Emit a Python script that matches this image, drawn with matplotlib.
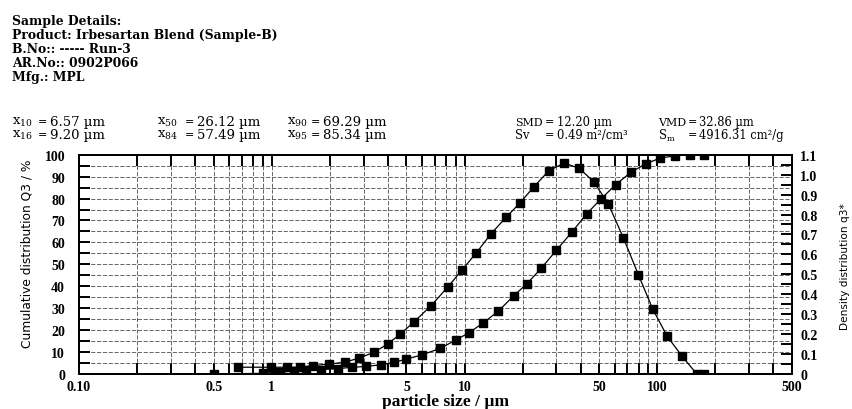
import matplotlib.pyplot as plt
from matplotlib.ticker import LogLocator, MultipleLocator, NullFormatter

plt.rcParams['mathtext.fontset'] = 'dejavuserif'

# HELOS class upper bounds (um) and cumulative distribution Q3 (%)
size_bounds = [0.5, 0.9, 1.1, 1.3, 1.5, 1.8, 2.2, 2.6, 3.1, 3.7, 4.3, 5.0, 6.0, 7.5, 9.0, 10.5,
               12.5, 15, 18, 21, 25, 30, 36, 43, 51, 61, 73, 87, 103, 123, 147, 175]
q3_cum = [0, 0.3, 0.9, 1.3, 1.6, 2.0, 2.5, 3.0, 3.5, 4.2, 5.3, 6.8, 8.7, 11.7, 15.5, 18.7,
          23.3, 28.7, 35.7, 41.0, 48.2, 56.5, 64.6, 73.0, 79.8, 86.4, 92.0, 95.8, 98.4, 99.5, 99.9, 100]

# density distribution q3* at class mid points
size_mid = [0.67, 0.995, 1.2, 1.4, 1.64, 1.99, 2.39, 2.84, 3.39, 3.99, 4.64, 5.48, 6.71, 8.22,
            9.72, 11.46, 13.69, 16.43, 19.44, 22.9, 27.4, 32.9, 39.3, 46.8, 55.8, 66.7, 79.7,
            94.7, 112.6, 134.5, 160.4, 175]
q3_dens = [0.034, 0.034, 0.034, 0.034, 0.042, 0.05, 0.059, 0.08, 0.109, 0.15, 0.20, 0.262,
           0.343, 0.438, 0.523, 0.605, 0.702, 0.786, 0.859, 0.939, 1.02, 1.058, 1.032, 0.965,
           0.852, 0.683, 0.499, 0.326, 0.189, 0.089, 0.0, 0.0]

x_ticks = [0.1, 0.5, 1, 5, 10, 50, 100, 500]
x_ticklabels = ['0.10', '0.5', '1', '5', '10', '50', '100', '500']
dens_ticks = [0, 0.1, 0.2, 0.3, 0.4, 0.5, 0.6, 0.7, 0.8, 0.9, 1.0, 1.1]
dens_ticklabels = ['0', '0.1', '0.2', '0.3', '0.4', '0.5', '0.6', '0.7', '0.8', '0.9', '1.0', '1.1']

header = ['Sample Details:', 'Product: Irbesartan Blend (Sample-B)', 'B.No:: ----- Run-3',
          'AR.No:: 0902P066', 'Mfg.: MPL']
# (label x, row y, label, label size, '=' x, value x, value, value size)
stats = [
    (12, 122.5, r'x$_{10}$', 9.5, 38, 50, '6.57 µm', 9.5),
    (12, 135.5, r'x$_{16}$', 9.5, 38, 50, '9.20 µm', 9.5),
    (157, 122.5, r'x$_{50}$', 9.5, 185, 197, '26.12 µm', 9.5),
    (157, 135.5, r'x$_{84}$', 9.5, 185, 197, '57.49 µm', 9.5),
    (287, 122.5, r'x$_{90}$', 9.5, 311, 323, '69.29 µm', 9.5),
    (287, 135.5, r'x$_{95}$', 9.5, 311, 323, '85.34 µm', 9.5),
    (515, 122.5, 'SMD', 7.9, 545, 557, '12.20 µm', 8.3),
    (515, 135.5, 'Sv', 8.3, 545, 557, '0.49 m²/cm³', 8.3),
    (658, 122.5, 'VMD', 7.9, 688, 699, '32.86 µm', 8.3),
    (658, 135.5, r'S$_{\mathrm{m}}$', 8.3, 688, 699, '4916.31 cm²/g', 8.3),
]

W, H = 852, 410
serif = 'Liberation Serif'
wide_serif = 'DejaVu Serif'

fig = plt.figure(figsize=(W / 100, H / 100), dpi=100)
ax = fig.add_axes([79 / W, 1 - 375 / H, (792 - 79) / W, (375 - 155.7) / H])
ax2 = ax.twinx()

# header block
for i, line in enumerate(header):
    fig.text(12 / W, 1 - (21.5 + 14 * i) / H, line, family=wide_serif, weight='bold',
             fontsize=8.9, va='center', ha='left')
for xl, yp, lab, lab_fs, xe, xv, val, fs in stats:
    y = 1 - yp / H
    fig.text(xl / W, y, lab, family=wide_serif, fontsize=lab_fs, va='center')
    fig.text(xe / W, y, '=', family=wide_serif, fontsize=8, va='center')
    fig.text(xv / W, y, val, family=wide_serif, fontsize=fs, va='center')

# grid
ax.set_xscale('log')
ax.set_xlim(0.1, 500)
ax.set_ylim(0, 100)
ax.set_axisbelow(True)
ax.grid(which='both', axis='both', color='0.3', lw=0.6, ls=(0, (5, 2)))

ax.plot(size_bounds, q3_cum, color='black', lw=0.9, marker='s', ms=6, zorder=3)
ax2.plot(size_mid, q3_dens, color='black', lw=0.9, marker='s', ms=6, zorder=3)
ax2.set_ylim(0, 1.1)

ax.set_xticks(x_ticks)
ax.set_xticklabels(x_ticklabels)
ax.xaxis.set_minor_locator(LogLocator(base=10, subs=range(1, 10), numticks=20))
ax.xaxis.set_minor_formatter(NullFormatter())
ax.yaxis.set_major_locator(MultipleLocator(10))
ax.yaxis.set_minor_locator(MultipleLocator(5))
ax2.set_yticks(dens_ticks)
ax2.set_yticklabels(dens_ticklabels)
ax2.yaxis.set_minor_locator(MultipleLocator(0.05))

ax.tick_params(axis='x', which='both', direction='in', top=True, length=8, width=1.4, pad=4)
ax.tick_params(axis='y', which='both', direction='in', length=8, width=1.4, pad=10)
ax2.tick_params(axis='y', which='both', direction='in', length=8, width=1.4, pad=6)

for a in (ax, ax2):
    for lab in a.get_xticklabels() + a.get_yticklabels():
        lab.set_family(serif)
        lab.set_weight('bold')
        lab.set_fontsize(10)
    for sp in a.spines.values():
        sp.set_linewidth(1.4)

fig.text(27 / W, 1 - 254 / H, 'Cumulative distribution Q3 / %', rotation=90,
         family='DejaVu Sans', fontsize=8.8, va='center', ha='center')
fig.text(845 / W, 1 - 267 / H, 'Density distribution q3*', rotation=90,
         family='DejaVu Sans', fontsize=7.6, va='center', ha='center')
fig.text(446 / W, 1 - 402 / H, 'particle size / µm', family=serif, weight='bold',
         fontsize=12.5, va='center', ha='center')

fig.savefig('out.png', dpi=100)
